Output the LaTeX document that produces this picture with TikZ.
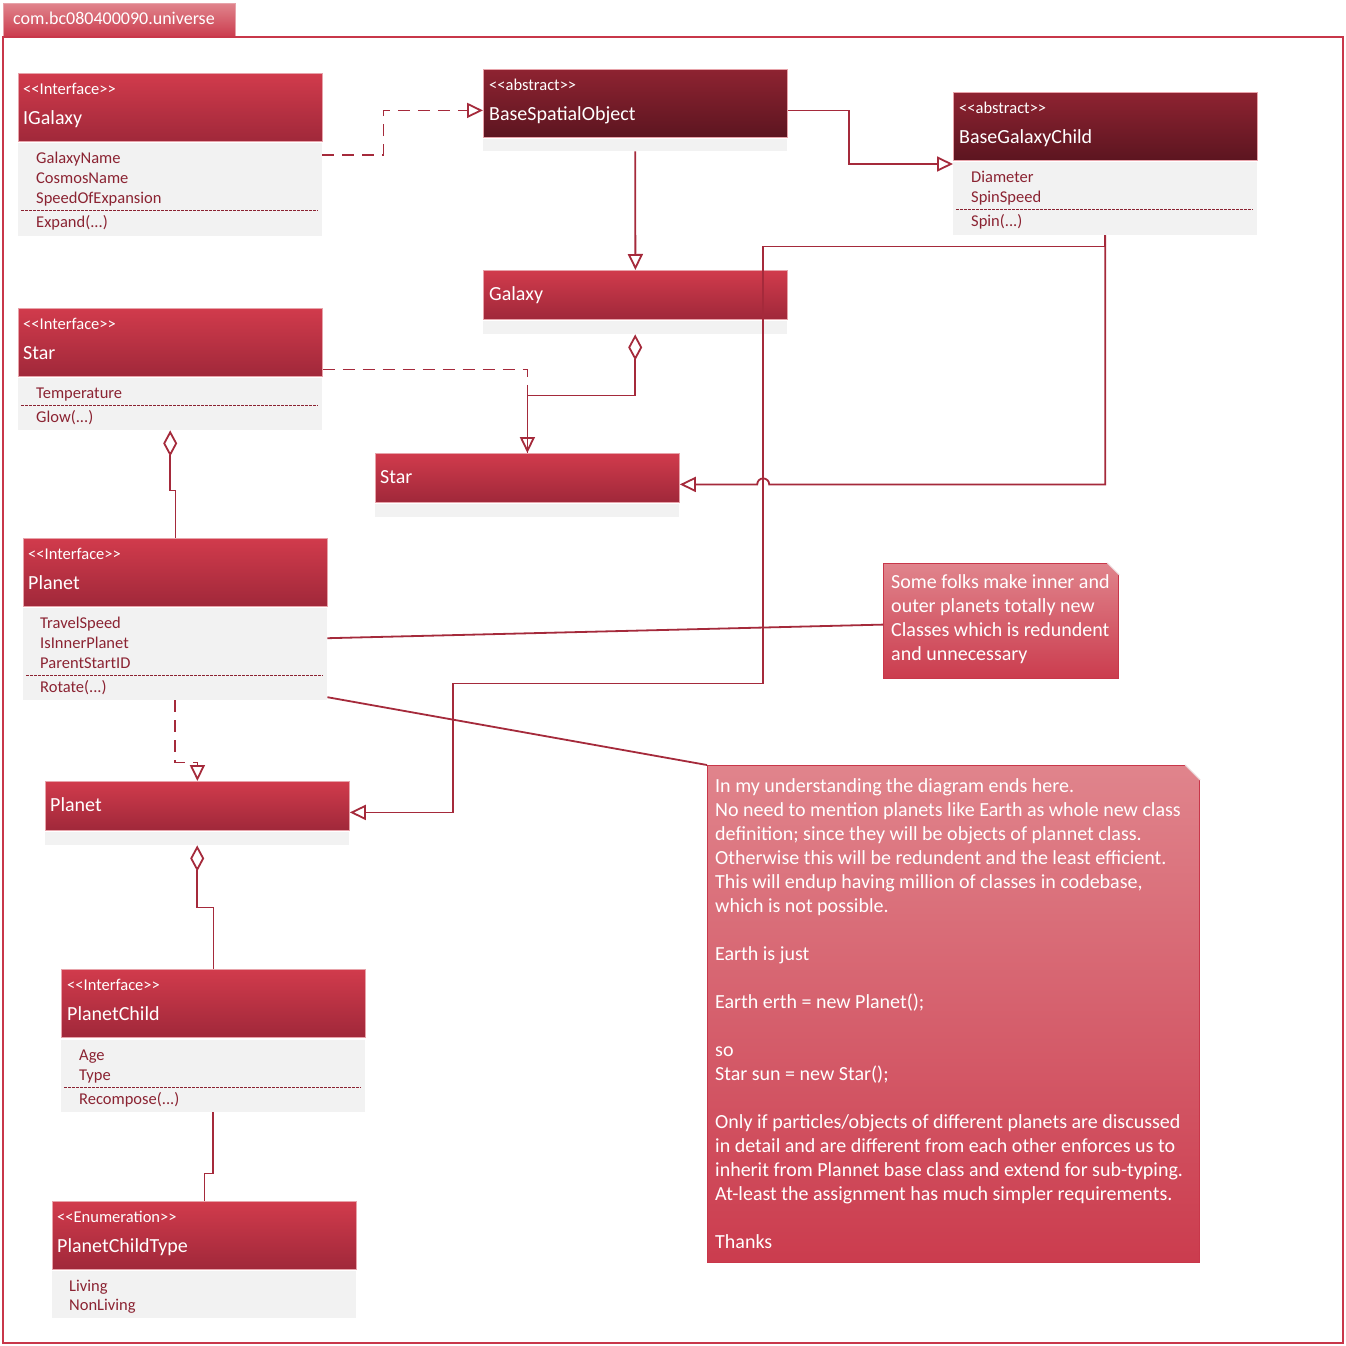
\documentclass[tikz,border=0pt]{standalone}
\usepackage{fontspec}
\setmainfont{Carlito}
\usetikzlibrary{arrows.meta}
\definecolor{hdrtop}{HTML}{D13B4C}
\definecolor{hdrbot}{HTML}{A0283A}
\definecolor{hdrline}{HTML}{E7A3AA}
\definecolor{abstop}{HTML}{8E2331}
\definecolor{absbot}{HTML}{5C1520}
\definecolor{bodygray}{HTML}{F2F2F2}
\definecolor{attrred}{HTML}{8B2332}
\definecolor{linered}{HTML}{A52A3B}
\definecolor{notetop}{HTML}{E0848C}
\definecolor{notebot}{HTML}{CB3C4E}
\definecolor{noteline}{HTML}{C8374A}
\definecolor{foldgray}{HTML}{E9D3D6}
\begin{document}
\begin{tikzpicture}[x=1pt,y=-1pt,
  hdr/.style={draw=hdrline,line width=0.8pt,top color=hdrtop,bottom color=hdrbot,minimum width=304pt,minimum height=68pt,anchor=north west,inner sep=0pt},
  abshdr/.style={hdr,top color=abstop,bottom color=absbot},
  clshdr/.style={hdr,minimum height=49pt},
  body/.style={fill=bodygray,minimum width=304pt,anchor=north west,inner sep=0pt},
  stereo/.style={anchor=base west,text=white,font=\fontsize{16.5}{20}\selectfont,inner sep=0pt},
  ttl/.style={anchor=base west,text=white,font=\fontsize{20}{24}\selectfont,inner sep=0pt},
  attr/.style={anchor=base west,text=attrred,font=\fontsize{16.5}{20}\selectfont,inner sep=0pt},
  sep/.style={draw=attrred,line width=1pt,dash pattern=on 2.5pt off 1.5pt},
  conn/.style={draw=linered,line width=1.8pt},
  real/.style={conn,dash pattern=on 12pt off 8pt},
  gen/.style={-{Triangle[open,fill=white,length=16pt,width=15pt]}},
  aggr/.style={{Diamond[open,fill=white,length=26pt,width=14pt]}-},
  note/.style={draw=noteline,line width=1.2pt,top color=notetop,bottom color=notebot,anchor=north west,inner sep=0pt},
  notetxt/.style={anchor=north west,align=left,text=white,font=\fontsize{20}{24}\selectfont,inner sep=0pt}
]
\useasboundingbox (0,0) rectangle (1346,1346);
\fill[white] (0,0) rectangle (1346,1346);
\node[draw=hdrline,line width=0.8pt,top color=notetop,bottom color=notebot,minimum width=232pt,minimum height=33pt,anchor=north west,inner sep=0pt] (pkg) at (3,3) {};
\node[anchor=base west,text=white,font=\fontsize{18}{22}\selectfont,inner sep=0pt] (pkgtxt) at (13,25) {com.bc080400090.universe};
\draw[noteline,line width=2pt] (3,37) rectangle (1343,1343);

\node[hdr] (igalaxy) at (18,73) {};
\node[body,minimum height=93pt] (igalaxyb) at (18,143) {};
\node[stereo] (igalaxys) at ([xshift=5pt,yshift=-21pt]igalaxy.north west) {<\kern0pt<Interface>\kern0pt>};
\node[ttl] (igalaxyt) at ([xshift=5pt,yshift=-51pt]igalaxy.north west) {IGalaxy};
\foreach \a [count=\i from 0] in {GalaxyName,CosmosName,SpeedOfExpansion}
  \node[attr] (igalaxya\i) at ([xshift=18pt,yshift={-(20+20*\i)*1pt}]igalaxyb.north west) {\a};
\draw[sep] ([xshift=3pt,yshift=-67pt]igalaxyb.north west) -- ([xshift=-4pt,yshift=-67pt]igalaxyb.north east);
\node[attr] (igalaxym) at ([xshift=18pt,yshift=-84pt]igalaxyb.north west) {Expand(...)};

\node[abshdr] (bso) at (483,69) {};
\node[body,minimum height=12pt] (bsob) at (483,139) {};
\node[stereo] (bsos) at ([xshift=6pt,yshift=-21pt]bso.north west) {<\kern0pt<abstract>\kern0pt>};
\node[ttl] (bsot) at ([xshift=6pt,yshift=-51pt]bso.north west) {BaseSpatialObject};

\node[abshdr] (bgc) at (953,92) {};
\node[body,minimum height=73pt] (bgcb) at (953,162) {};
\node[stereo] (bgcs) at ([xshift=6pt,yshift=-21pt]bgc.north west) {<\kern0pt<abstract>\kern0pt>};
\node[ttl] (bgct) at ([xshift=6pt,yshift=-51pt]bgc.north west) {BaseGalaxyChild};
\foreach \a [count=\i from 0] in {Diameter,SpinSpeed}
  \node[attr] (bgca\i) at ([xshift=18pt,yshift={-(20+20*\i)*1pt}]bgcb.north west) {\a};
\draw[sep] ([xshift=3pt,yshift=-47pt]bgcb.north west) -- ([xshift=-4pt,yshift=-47pt]bgcb.north east);
\node[attr] (bgcm) at ([xshift=18pt,yshift=-64pt]bgcb.north west) {Spin(...)};

\node[clshdr] (galaxy) at (483,270) {};
\node[body,minimum height=13pt] (galaxyb) at (483,321) {};
\node[ttl] (galaxyt) at ([xshift=6pt,yshift=-30pt]galaxy.north west) {Galaxy};

\node[hdr] (stari) at (18,308) {};
\node[body,minimum height=52pt] (starib) at (18,378) {};
\node[stereo] (staris) at ([xshift=5pt,yshift=-21pt]stari.north west) {<\kern0pt<Interface>\kern0pt>};
\node[ttl] (starit) at ([xshift=5pt,yshift=-51pt]stari.north west) {Star};
\node[attr] (staria0) at ([xshift=18pt,yshift=-20pt]starib.north west) {Temperature};
\draw[sep] ([xshift=3pt,yshift=-27pt]starib.north west) -- ([xshift=-4pt,yshift=-27pt]starib.north east);
\node[attr] (starim) at ([xshift=18pt,yshift=-44pt]starib.north west) {Glow(...)};

\node[clshdr] (starc) at (375,453) {};
\node[body,minimum height=13pt] (starcb) at (375,504) {};
\node[ttl] (starct) at ([xshift=5pt,yshift=-30pt]starc.north west) {Star};

\node[hdr] (planeti) at (23,538) {};
\node[body,minimum height=92pt] (planetib) at (23,608) {};
\node[stereo] (planetis) at ([xshift=5pt,yshift=-21pt]planeti.north west) {<\kern0pt<Interface>\kern0pt>};
\node[ttl] (planetit) at ([xshift=5pt,yshift=-51pt]planeti.north west) {Planet};
\foreach \a [count=\i from 0] in {TravelSpeed,IsInnerPlanet,ParentStartID}
  \node[attr] (planetia\i) at ([xshift=17pt,yshift={-(20+20*\i)*1pt}]planetib.north west) {\a};
\draw[sep] ([xshift=3pt,yshift=-67pt]planetib.north west) -- ([xshift=-4pt,yshift=-67pt]planetib.north east);
\node[attr] (planetim) at ([xshift=17pt,yshift=-84pt]planetib.north west) {Rotate(...)};

\node[clshdr] (planetc) at (45,781) {};
\node[body,minimum height=13pt] (planetcb) at (45,832) {};
\node[ttl] (planetct) at ([xshift=5pt,yshift=-30pt]planetc.north west) {Planet};

\node[hdr] (pchild) at (61,969) {};
\node[body,minimum height=72pt] (pchildb) at (61,1040) {};
\node[stereo] (pchilds) at ([xshift=6pt,yshift=-21pt]pchild.north west) {<\kern0pt<Interface>\kern0pt>};
\node[ttl] (pchildt) at ([xshift=6pt,yshift=-51pt]pchild.north west) {PlanetChild};
\foreach \a [count=\i from 0] in {Age,Type}
  \node[attr] (pchilda\i) at ([xshift=18pt,yshift={-(20+20*\i)*1pt}]pchildb.north west) {\a};
\draw[sep] ([xshift=3pt,yshift=-47pt]pchildb.north west) -- ([xshift=-4pt,yshift=-47pt]pchildb.north east);
\node[attr] (pchildm) at ([xshift=18pt,yshift=-64pt]pchildb.north west) {Recompose(...)};

\node[hdr] (pctype) at (52,1201) {};
\node[body,minimum height=47pt] (pctypeb) at (52,1271) {};
\node[stereo] (pctypes) at ([xshift=5pt,yshift=-21pt]pctype.north west) {<\kern0pt<Enumeration>\kern0pt>};
\node[ttl] (pctypet) at ([xshift=5pt,yshift=-51pt]pctype.north west) {PlanetChildType};
\foreach \a [count=\i from 0] in {Living,NonLiving}
  \node[attr] (pctypea\i) at ([xshift=17pt,yshift={-(20+19*\i)*1pt}]pctypeb.north west) {\a};

\node[note,minimum width=235pt,minimum height=115pt] (note1) at (883,563) {};
\fill[white] ([xshift=-12pt]note1.north east) -- ([xshift=1pt,yshift=1pt]note1.north east) -- ([yshift=-12pt]note1.north east) -- cycle;
\draw[foldgray,line width=1pt] ([xshift=-12pt]note1.north east) -- ([yshift=-12pt]note1.north east);
\node[notetxt] (note1t) at ([xshift=8pt,yshift=-11pt]note1.north west)
  {Some folks make inner and\\outer planets totally new\\Classes which is redundent\\and unnecessary};

\node[note,minimum width=492pt,minimum height=497pt] (note2) at (707,765) {};
\fill[white] ([xshift=-15pt]note2.north east) -- ([xshift=1pt,yshift=1pt]note2.north east) -- ([yshift=-15pt]note2.north east) -- cycle;
\draw[foldgray,line width=1pt] ([xshift=-15pt]note2.north east) -- ([yshift=-15pt]note2.north east);
\node[notetxt] (note2t) at ([xshift=8pt,yshift=-13pt]note2.north west)
  {In my understanding the diagram ends here.\\
   No need to mention planets like Earth as whole new class\\
   definition; since they will be objects of plannet class.\\
   Otherwise this will be redundent and the least efficient.\\
   This will endup having million of classes in codebase,\\
   which is not possible.\\[24pt]
   Earth is just\\[24pt]
   Earth erth = new Planet();\\[24pt]
   so\\
   Star sun = new Star();\\[24pt]
   Only if particles/objects of different planets are discussed\\
   in detail and are different from each other enforces us to\\
   inherit from Plannet base class and extend for sub-typing.\\
   At-least the assignment has much simpler requirements.\\[24pt]
   Thanks};

\draw[real,gen] ([yshift=-12pt]igalaxyb.north east) -- ++(61,0) |- ([yshift=-7pt]bso.west);
\draw[conn,gen] ([yshift=-7pt]bso.east) -- ++(61,0) |- ([yshift=-2pt]bgcb.north west);
\draw[conn,gen] (bsob.south) -- (galaxy.north);
\draw[real,gen] ([yshift=-27pt]stari.east) -| (starc.north);
\draw[conn,aggr] (galaxyb.south) -- ++(0,61) -| (starc.north);
\draw[conn,gen] (bgcb.south) -- ++(0,249) -- ++(-336,0) arc[start angle=0,end angle=180,radius=6pt] -- ([yshift=-6.5pt]starc.east);
\draw[conn,gen] (bgcb.south) -- ++(0,11) -- ++(-342,0) -- ++(0,437) -- ++(-310,0) |- ([yshift=-6.5pt]planetc.east);
\draw[conn,aggr] (starib.south) -- ++(0,60) -| (planeti.north);
\draw[real,gen] (planetib.south) -- ++(0,62) -| (planetc.north);
\draw[conn,aggr] (planetcb.south) -- ++(0,62) -| (pchild.north);
\draw[conn] (pchildb.south) -- ++(0,61) -| (pctype.north);
\draw[conn] ([yshift=16pt]planetib.east) -- ([yshift=-3.5pt]note1.west);
\draw[conn] ([yshift=-43pt]planetib.east) -- (note2.north west);
\end{tikzpicture}
\end{document}
